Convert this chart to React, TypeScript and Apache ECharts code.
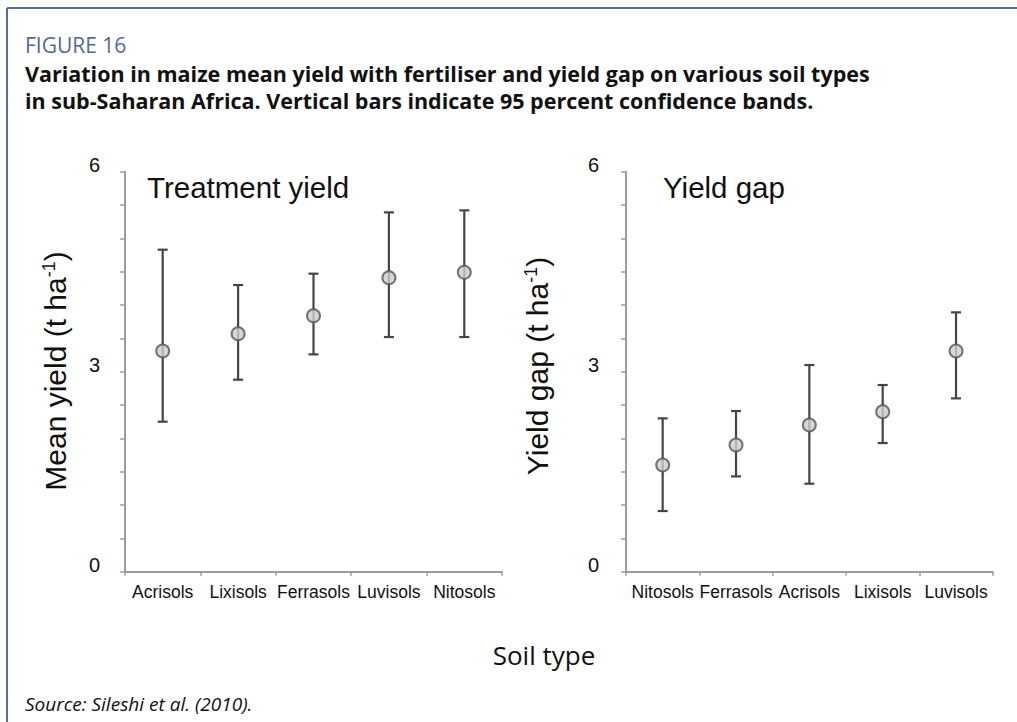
import React, { useEffect, useRef } from "react";
import * as echarts from "echarts";

const categoriesLeft = ["Acrisols", "Lixisols", "Ferrasols", "Luvisols", "Nitosols"];
const meanLeft = [3.31, 3.57, 3.84, 4.41, 4.49];
const lowerLeft = [2.25, 2.88, 3.26, 3.52, 3.52];
const upperLeft = [4.83, 4.3, 4.47, 5.39, 5.42];

const categoriesRight = ["Nitosols", "Ferrasols", "Acrisols", "Lixisols", "Luvisols"];
const meanRight = [1.6, 1.9, 2.2, 2.4, 3.31];
const lowerRight = [0.91, 1.43, 1.32, 1.93, 2.6];
const upperRight = [2.3, 2.41, 3.1, 2.8, 3.89];

const yTickLabels = [0, 3, 6];

const AXIS_COLOR = "#9c9c9c";
const BAR_COLOR = "#454545";
const SANS = "'Liberation Sans', Arial, sans-serif";
const MYRIAD = "'Open Sans', 'Noto Sans', sans-serif";

function errorBarRender(params: any, api: any) {
  const x = api.value(0);
  const lo = api.coord([x, api.value(1)]);
  const hi = api.coord([x, api.value(2)]);
  const half = 5;
  const style = { stroke: BAR_COLOR, lineWidth: 2.2 };
  return {
    type: "group",
    children: [
      { type: "line", shape: { x1: lo[0], y1: lo[1], x2: hi[0], y2: hi[1] }, style },
      { type: "line", shape: { x1: hi[0] - half, y1: hi[1], x2: hi[0] + half, y2: hi[1] }, style },
      { type: "line", shape: { x1: lo[0] - half, y1: lo[1], x2: lo[0] + half, y2: lo[1] }, style },
    ],
  };
}

function yAxis(gridIndex: number, margin: number) {
  return {
    type: "value",
    gridIndex,
    min: 0,
    max: 6,
    interval: 0.5,
    axisLine: { show: true, lineStyle: { color: AXIS_COLOR, width: 2 } },
    axisTick: { show: true, length: 5, lineStyle: { color: AXIS_COLOR, width: 1.5 } },
    splitLine: { show: false },
    axisLabel: {
      formatter: (v: number) => (yTickLabels.includes(v) ? String(v) : ""),
      fontSize: 20,
      color: "#111",
      fontFamily: SANS,
      margin,
      verticalAlign: "bottom",
      lineHeight: 14,
    },
  };
}

function xAxis(gridIndex: number, data: string[]) {
  return {
    type: "category",
    gridIndex,
    data,
    boundaryGap: true,
    axisLine: { show: true, lineStyle: { color: AXIS_COLOR, width: 2 } },
    axisTick: { show: true, length: 4, lineStyle: { color: AXIS_COLOR, width: 1.5 } },
    axisLabel: { interval: 0, fontSize: 17.5, color: "#111", fontFamily: SANS, margin: 11 },
    splitLine: { show: false },
  };
}

export default function App() {
  const ref = useRef<HTMLDivElement>(null);
  useEffect(() => {
    if (!ref.current) return;
    const chart = echarts.init(ref.current, null, { renderer: "svg" });
    const errLeft = categoriesLeft.map((_, i) => [i, lowerLeft[i], upperLeft[i]]);
    const errRight = categoriesRight.map((_, i) => [i, lowerRight[i], upperRight[i]]);
    const markerStyle = { color: "#cdcdcd", borderColor: "#555", borderWidth: 2 };
    const titleRich = (text: string) => ({
      text: `{a|${text} (t ha}{s|-1}{a|)}`,
      rich: {
        a: { fontSize: 30, fontFamily: SANS, fill: "#111", color: "#111" },
        s: { fontSize: 18, fontFamily: SANS, fill: "#111", color: "#111", verticalAlign: "top" },
      },
      align: "center",
      verticalAlign: "middle",
      textAlign: "center",
      textVerticalAlign: "middle",
    });
    const leftText = (text: string, x: number, y: number, font: string, fill = "#111") => ({
      type: "text",
      x,
      y,
      style: { text, font, fill, textVerticalAlign: "middle", verticalAlign: "middle" },
    });
    chart.setOption({
      animation: false,
      backgroundColor: "#ffffff",
      grid: [
        { left: 125, top: 171.7, width: 377, height: 400 },
        { left: 626, top: 171.7, width: 366.7, height: 400 },
      ],
      xAxis: [xAxis(0, categoriesLeft), xAxis(1, categoriesRight)],
      yAxis: [yAxis(0, 25), yAxis(1, 27)],
      series: [
        {
          type: "custom",
          xAxisIndex: 0,
          yAxisIndex: 0,
          renderItem: errorBarRender,
          data: errLeft,
          z: 2,
        },
        {
          type: "scatter",
          xAxisIndex: 0,
          yAxisIndex: 0,
          data: meanLeft,
          symbol: "circle",
          symbolSize: 13,
          itemStyle: markerStyle,
          z: 3,
        },
        {
          type: "custom",
          xAxisIndex: 1,
          yAxisIndex: 1,
          renderItem: errorBarRender,
          data: errRight,
          z: 2,
        },
        {
          type: "scatter",
          xAxisIndex: 1,
          yAxisIndex: 1,
          data: meanRight,
          symbol: "circle",
          symbolSize: 13,
          itemStyle: markerStyle,
          z: 3,
        },
      ],
      graphic: [
        { type: "line", shape: { x1: 7, y1: 8, x2: 1017, y2: 8 }, style: { stroke: "#5b6b9b", lineWidth: 2 } },
        { type: "line", shape: { x1: 7, y1: 8, x2: 7, y2: 722 }, style: { stroke: "#5b6b9b", lineWidth: 2 } },
        leftText("FIGURE 16", 25, 45, `21px ${MYRIAD}`, "#56679c"),
        leftText(
          "Variation in maize mean yield with fertiliser and yield gap on various soil types",
          25,
          73,
          `bold 21.5px ${MYRIAD}`
        ),
        leftText(
          "in sub-Saharan Africa. Vertical bars indicate 95 percent confidence bands.",
          25,
          100,
          `bold 21.5px ${MYRIAD}`
        ),
        leftText("Treatment yield", 147, 187, `29.5px ${SANS}`),
        leftText("Yield gap", 663, 187, `29.5px ${SANS}`),
        { type: "text", x: 55, y: 371, rotation: Math.PI / 2, style: titleRich("Mean yield") },
        { type: "text", x: 537, y: 366, rotation: Math.PI / 2, style: titleRich("Yield gap") },
        {
          type: "text",
          x: 544,
          y: 655,
          style: {
            text: "Soil type",
            font: `26px ${MYRIAD}`,
            fill: "#111",
            textAlign: "center",
            align: "center",
            textVerticalAlign: "middle",
            verticalAlign: "middle",
          },
        },
        leftText("Source: Sileshi et al. (2010).", 25, 704, `italic 19px ${MYRIAD}`),
      ],
    });
    return () => chart.dispose();
  }, []);
  return (
    <div
      ref={ref}
      style={{ position: "absolute", left: 0, top: 0, width: 1017, height: 722, background: "#fff" }}
    />
  );
}
